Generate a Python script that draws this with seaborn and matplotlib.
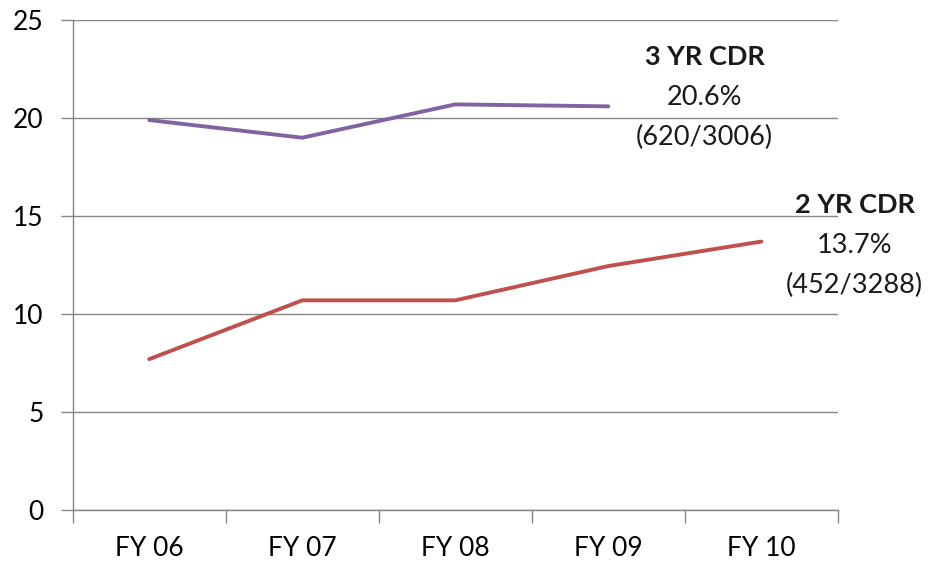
import numpy as np
import pandas as pd
import matplotlib
matplotlib.use("Agg")
import matplotlib.pyplot as plt
import seaborn as sns
from matplotlib.ticker import FixedLocator

# Data
years = ["FY 06", "FY 07", "FY 08", "FY 09", "FY 10"]
cdr_3yr = [19.9, 19.0, 20.7, 20.6, np.nan]
cdr_2yr = [7.7, 10.7, 10.7, 12.45, 13.7]

sns.set_theme(style="white")
plt.rcParams["font.family"] = ["Lato", "DejaVu Sans"]

df = pd.DataFrame({"year": years * 2,
                   "rate": cdr_3yr + cdr_2yr,
                   "series": ["3 YR"] * 5 + ["2 YR"] * 5})

fig = plt.figure(figsize=(9.33, 5.67), dpi=100)
ax = fig.add_axes([0.078, 0.1005, 0.82, 0.864])

palette = {"3 YR": "#8064A2", "2 YR": "#C0504D"}
sns.lineplot(data=df, x="year", y="rate", hue="series", palette=palette,
             linewidth=2.8, legend=False, ax=ax)

ax.set_xlim(-0.5, 4.5)
ax.set_ylim(0, 25)
ax.set_yticks([0, 5, 10, 15, 20, 25])
ax.yaxis.grid(True, color="#868686", linewidth=1)
ax.set_axisbelow(True)
ax.set_xlabel("")
ax.set_ylabel("")

for side in ["top", "right"]:
    ax.spines[side].set_visible(False)
for side in ["left", "bottom"]:
    ax.spines[side].set_color("#868686")
    ax.spines[side].set_linewidth(1)

ax.set_xticks(range(len(years)))
ax.set_xticklabels(years)
ax.xaxis.set_minor_locator(FixedLocator(np.arange(-0.5, 5, 1)))
ax.tick_params(axis="x", which="major", length=0, pad=19, labelsize=19, colors="black")
ax.tick_params(axis="x", which="minor", length=9, width=1, color="#868686", direction="out")
ax.tick_params(axis="y", which="major", length=9, width=1, color="#868686",
               direction="out", pad=12, labelsize=19, labelcolor="black", left=True)
ax.tick_params(axis="x", which="both", bottom=True)

# annotations at line ends
txt = dict(ha="center", va="center", fontsize=19.5, color="#1a1a1a")
ax.text(3.63, 23.1, "3 YR CDR", fontweight="bold", **txt)
ax.text(3.63, 21.05, "20.6%", **txt)
ax.text(3.63, 19.0, "(620/3006)", **txt)
ax.text(4.61, 15.55, "2 YR CDR", fontweight="bold", clip_on=False, **txt)
ax.text(4.61, 13.5, "13.7%", clip_on=False, **txt)
ax.text(4.61, 11.45, "(452/3288)", clip_on=False, **txt)

fig.savefig("out.png", dpi=100)
